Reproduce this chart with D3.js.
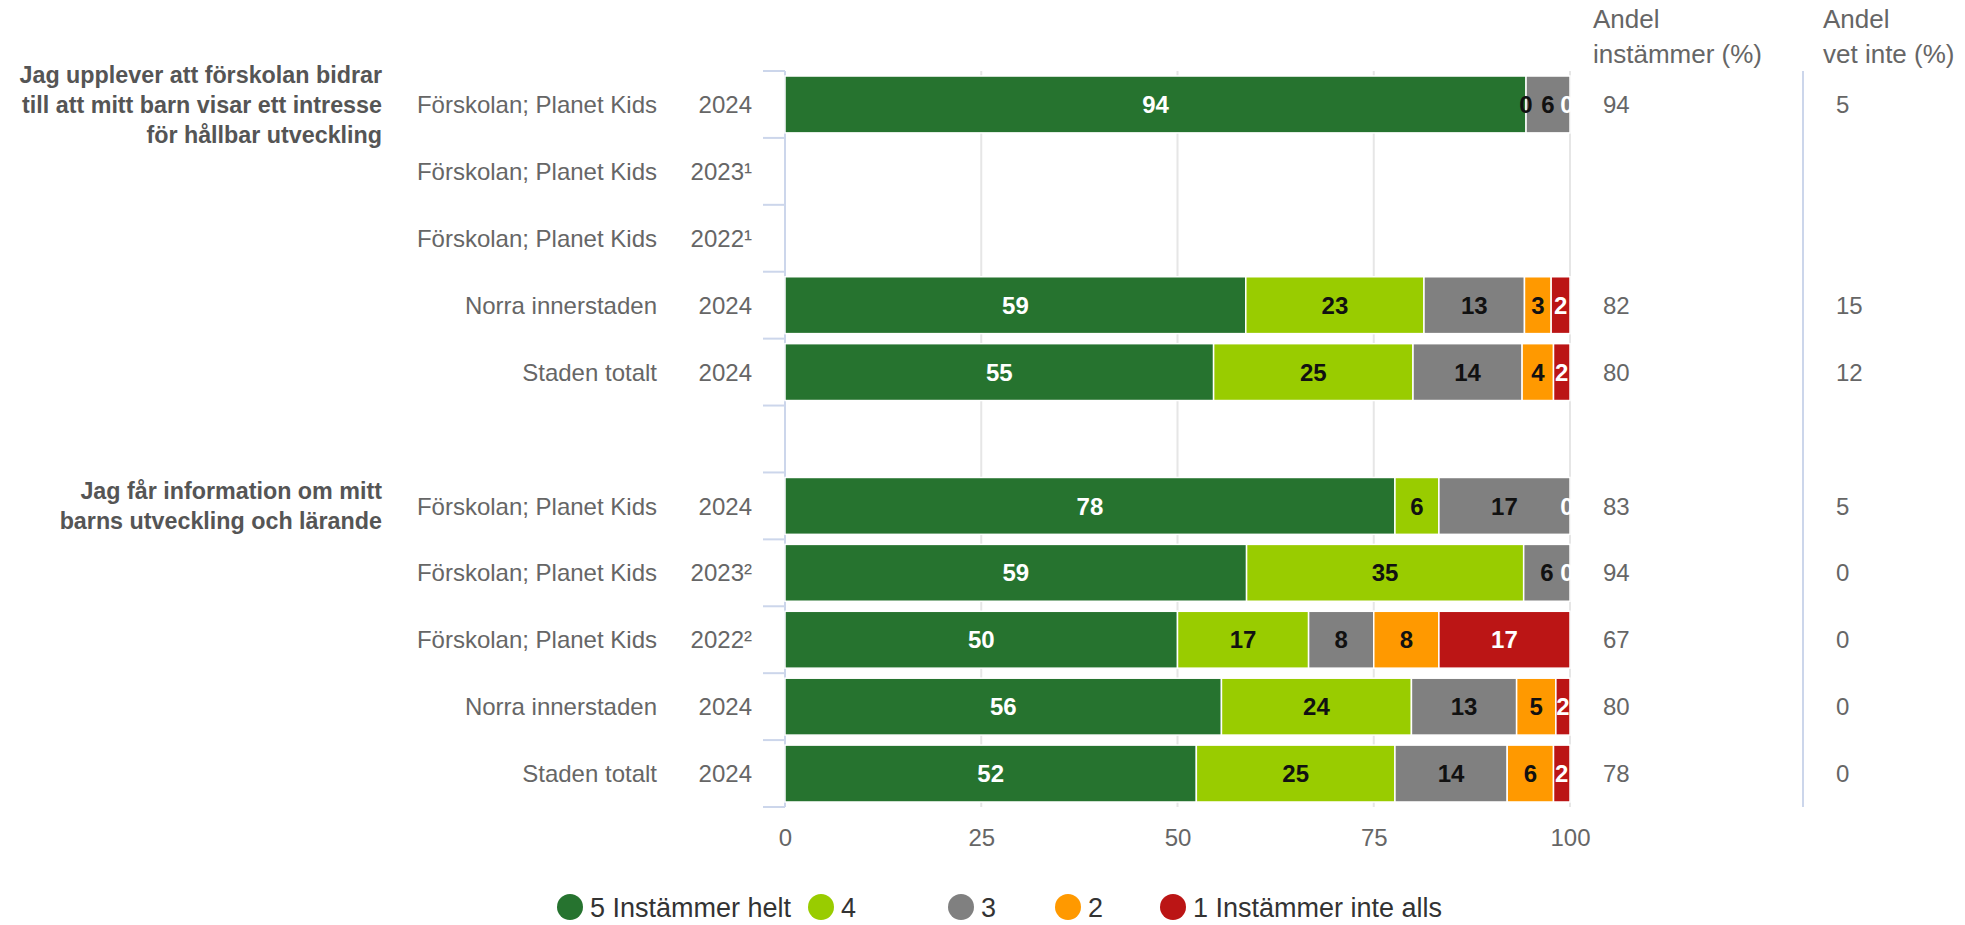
<!DOCTYPE html>
<html>
<head>
<meta charset="utf-8">
<script src="https://cdn.jsdelivr.net/npm/d3@7"></script>
<style>
  body { margin: 0; background: #fff; }
  svg { font-family: "Liberation Sans", Arial, sans-serif; }
</style>
</head>
<body>
<div id="chart"></div>
<script>
// rows: 5 per question, one empty row between the groups
const questions = [
  ["Jag upplever att förskolan bidrar", "till att mitt barn visar ett intresse", "för hållbar utveckling"],
  ["Jag får information om mitt", "barns utveckling och lärande"]
];
const questionRow = [0, 6];

const units = ["Förskolan; Planet Kids", "Förskolan; Planet Kids", "Förskolan; Planet Kids", "Norra innerstaden", "Staden totalt", "",
               "Förskolan; Planet Kids", "Förskolan; Planet Kids", "Förskolan; Planet Kids", "Norra innerstaden", "Staden totalt"];
const years = ["2024", "2023¹", "2022¹", "2024", "2024", "",
               "2024", "2023²", "2022²", "2024", "2024"];

// share per answer, in percent (labels are rounded)
const s5 = [94.4, null, null, 58.7, 54.6, null, 77.7, 58.8, 50.0, 55.6, 52.4];
const s4 = [0, null, null, 22.7, 25.4, null, 5.6, 35.3, 16.7, 24.2, 25.3];
const s3 = [5.6, null, null, 12.8, 13.9, null, 16.7, 5.9, 8.3, 13.4, 14.3];
const s2 = [0, null, null, 3.4, 4.0, null, 0, 0, 8.3, 5.0, 5.9];
const s1 = [0, null, null, 2.4, 2.1, null, 0, 0, 16.7, 1.8, 2.1];

const agree   = [94, null, null, 82, 80, null, 83, 94, 67, 80, 78];
const dontKnow = [5, null, null, 15, 12, null, 5, 0, 0, 0, 0];

const seriesNames = ["5 Instämmer helt", "4", "3", "2", "1 Instämmer inte alls"];
const colors = ["#26732f", "#99cc00", "#808080", "#ff9900", "#bb1515"];
const labelColors = ["#fff", "#111", "#111", "#111", "#fff"];
const xTicks = [0, 25, 50, 75, 100];

const width = 1965, height = 925;
const x0 = 785, x1 = 1570, yTop = 71, yBottom = 807;

const svg = d3.select('#chart').append('svg')
    .attr('width', width)
    .attr('height', height);

const rows = d3.range(units.length);
const xScale = d3.scaleLinear().domain([0, 100]).range([x0, x1]);
const yScale = d3.scaleBand().domain(rows).range([yTop, yBottom])
    .paddingInner(0.15).paddingOuter(0.075);

// gridlines
svg.append('g').selectAll('line')
    .data(xTicks)
    .enter().append('line')
    .attr('x1', d => xScale(d)).attr('x2', d => xScale(d))
    .attr('y1', yTop).attr('y2', yBottom)
    .attr('stroke', '#e6e6e6').attr('stroke-width', 2);

// x axis labels
svg.append('g')
    .attr('transform', `translate(0, ${yBottom})`)
    .call(d3.axisBottom(xScale).tickValues(xTicks).tickSize(0).tickPadding(22))
    .call(g => g.select('.domain').remove())
    .call(g => g.selectAll('text').attr('fill', '#666').style('font-size', '24px')
        .style('font-family', '"Liberation Sans", Arial, sans-serif'));

// left axis line + category ticks at band edges
const edges = rows.map(i => yScale(i) - yScale.step() * yScale.paddingInner() / 2);
edges.push(yBottom);
edges[0] = yTop;
svg.append('line')
    .attr('x1', x0).attr('x2', x0).attr('y1', yTop).attr('y2', yBottom)
    .attr('stroke', '#ccd6eb').attr('stroke-width', 2);
svg.append('g').selectAll('line')
    .data(edges)
    .enter().append('line')
    .attr('x1', x0 - 22).attr('x2', x0)
    .attr('y1', d => d).attr('y2', d => d)
    .attr('stroke', '#ccd6eb').attr('stroke-width', 2);

// stacked bars
const allSeries = [s5, s4, s3, s2, s1];
const stacked = rows.map(i => {
  let acc = 0;
  return allSeries.map((s, k) => {
    const v = s[i];
    const seg = { row: i, k: k, v: v, start: acc, end: acc + (v || 0) };
    acc += v || 0;
    return seg;
  });
});
const segs = stacked.flat().filter(d => d.v !== null);

svg.append('g').selectAll('rect')
    .data(segs.filter(d => d.v > 0))
    .enter().append('rect')
    .attr('x', d => xScale(d.start))
    .attr('y', d => yScale(d.row))
    .attr('width', d => xScale(d.end) - xScale(d.start))
    .attr('height', yScale.bandwidth())
    .attr('fill', d => colors[d.k])
    .attr('stroke', '#fff').attr('stroke-width', 1.5);

svg.append('clipPath').attr('id', 'plotclip')
    .append('rect').attr('x', x0).attr('y', yTop).attr('width', x1 - x0 + 3).attr('height', yBottom - yTop);

// labels; a zero is hidden when the next segment is also zero (overlap)
const labelSegs = segs.filter(d => {
  if (d.v > 0) return true;
  const next = stacked[d.row][d.k + 1];
  return !(next && next.v === 0);
});
svg.append('g').attr('clip-path', 'url(#plotclip)')
    .selectAll('text')
    .data(labelSegs)
    .enter().append('text')
    .attr('x', d => xScale((d.start + d.end) / 2) - (d.v === 0 && d.end >= 100 ? 3 : 0))
    .attr('y', d => yScale(d.row) + yScale.bandwidth() / 2)
    .attr('dy', '0.36em')
    .attr('text-anchor', 'middle')
    .attr('fill', d => labelColors[d.k])
    .style('font-size', '24px').style('font-weight', 'bold')
    .text(d => Math.round(d.v));

// row labels
const rowLabels = svg.append('g').style('font-size', '24px').attr('fill', '#666');
rowLabels.selectAll('.unit')
    .data(rows.filter(i => units[i] !== ''))
    .enter().append('text')
    .attr('x', 657)
    .attr('y', i => yScale(i) + yScale.bandwidth() / 2)
    .attr('dy', '0.36em').attr('text-anchor', 'end')
    .text(i => units[i]);
rowLabels.selectAll('.year')
    .data(rows.filter(i => years[i] !== ''))
    .enter().append('text')
    .attr('x', 752)
    .attr('y', i => yScale(i) + yScale.bandwidth() / 2)
    .attr('dy', '0.36em').attr('text-anchor', 'end')
    .text(i => years[i]);

// question labels
questions.forEach((lines, q) => {
  const cy = yScale(questionRow[q]) + yScale.bandwidth() / 2;
  const t = svg.append('text')
      .attr('x', 382).attr('text-anchor', 'end')
      .attr('fill', '#555').style('font-size', '23.3px').style('font-weight', 'bold');
  lines.forEach((l, j) => {
    t.append('tspan').attr('x', 382)
      .attr('y', cy + (j - (lines.length - 1) / 2) * 30)
      .attr('dy', '0.36em').text(l);
  });
});

// side columns
const colA = 1593, colB = 1823;
[[colA, ["Andel", "instämmer (%)"]], [colB, ["Andel", "vet inte (%)"]]].forEach(([cx, lines]) => {
  lines.forEach((l, j) => {
    svg.append('text').attr('x', cx).attr('y', 19 + j * 35).attr('dy', '0.36em')
      .attr('fill', '#666').style('font-size', '26px').text(l);
  });
});
svg.append('line')
    .attr('x1', 1803).attr('x2', 1803).attr('y1', yTop).attr('y2', yBottom)
    .attr('stroke', '#ccd6eb').attr('stroke-width', 2);

svg.append('g').selectAll('text')
    .data(rows.filter(i => agree[i] !== null))
    .enter().append('text')
    .attr('x', 1603)
    .attr('y', i => yScale(i) + yScale.bandwidth() / 2)
    .attr('dy', '0.36em').attr('fill', '#666').style('font-size', '24px')
    .text(i => agree[i]);
svg.append('g').selectAll('text')
    .data(rows.filter(i => dontKnow[i] !== null))
    .enter().append('text')
    .attr('x', 1836)
    .attr('y', i => yScale(i) + yScale.bandwidth() / 2)
    .attr('dy', '0.36em').attr('fill', '#666').style('font-size', '24px')
    .text(i => dontKnow[i]);

// legend
const legendX = [570, 821, 961, 1068, 1173];
const legend = svg.append('g').selectAll('g')
    .data(seriesNames)
    .enter().append('g')
    .attr('transform', (d, i) => `translate(${legendX[i]}, 907)`);
legend.append('circle').attr('r', 13).attr('fill', (d, i) => colors[i]);
legend.append('text')
    .attr('x', 20).attr('dy', '0.36em')
    .attr('fill', '#333').style('font-size', '27px')
    .text(d => d);
</script>
</body>
</html>
